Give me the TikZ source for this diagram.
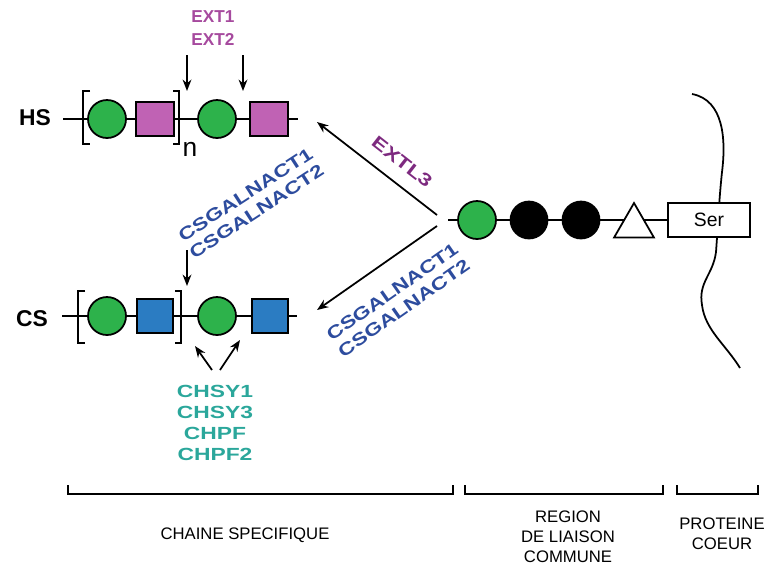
\documentclass[tikz,border=0pt]{standalone}
\usepackage{fontspec}
\setmainfont{Liberation Sans}
\newfontfamily\widesans[FakeStretch=1.3]{Liberation Sans}
\usetikzlibrary{arrows.meta, shapes.geometric}

\definecolor{sugargreen}{HTML}{2DB24B}
\definecolor{sugarmagenta}{HTML}{C062B4}
\definecolor{sugarblue}{HTML}{2B7CC2}
\definecolor{extpurple}{HTML}{A64A9E}
\definecolor{extlpurple}{HTML}{7D2A7F}
\definecolor{csgblue}{HTML}{2D4C9E}
\definecolor{chsyteal}{HTML}{2BA79B}

\begin{document}
\begin{tikzpicture}[x=0.02cm, y=-0.02cm, >={Stealth[length=6.5pt,width=5pt]}, line width=1pt,
    uronic/.style={circle, draw, fill=sugargreen, minimum size=0.76cm, inner sep=0pt},
    glcnac/.style={rectangle, draw, fill=sugarmagenta, minimum width=0.76cm, minimum height=0.68cm, inner sep=0pt},
    galnac/.style={rectangle, draw, fill=sugarblue, minimum width=0.72cm, minimum height=0.68cm, inner sep=0pt},
    gal/.style={circle, draw, fill=black, minimum size=0.74cm, inner sep=0pt},
    xyl/.style={regular polygon, regular polygon sides=3, draw, fill=white, minimum size=0.92cm, inner sep=0pt},
    serbox/.style={rectangle, draw, fill=white, minimum width=1.64cm, minimum height=0.68cm, inner sep=0pt, font=\fontsize{11}{13}\selectfont},
    chainlbl/.style={font=\bfseries\fontsize{13}{15}\selectfont},
    enzyme/.style={align=center, font=\widesans\bfseries\fontsize{10}{11.5}\selectfont},
    region/.style={align=center, font=\fontsize{9.5}{11.4}\selectfont}]

    \useasboundingbox (0,0) rectangle (766,566);

    % HS
    \node[chainlbl] (HS) at (35,118) {HS};
    \coordinate (hsL) at (63,119);
    \coordinate (hsR) at (298,119);
    \draw (hsL) -- (hsR);
    \draw (90,91) -- (83,91) -- (83,144) -- (90,144);
    \draw (173,91) -- (179,91) -- (179,144) -- (173,144);
    \node[uronic] (hsU1) at (107,119) {};
    \node[glcnac] (hsN1) at (155,119) {};
    \node[uronic] (hsU2) at (217,119) {};
    \node[glcnac] (hsN2) at (269,119) {};
    \node[font=\fontsize{15}{15}\selectfont] (hsn) at (190,149) {n};

    \node[align=center, text=extpurple, font=\bfseries\fontsize{9.8}{13}\selectfont] (EXT) at (213,28) {EXT1\\EXT2};
    \coordinate (extA) at (187,55);
    \coordinate (extAe) at (187,91);
    \coordinate (extB) at (243,55);
    \coordinate (extBe) at (243,91);
    \draw[->] (extA) -- (extAe);
    \draw[->] (extB) -- (extBe);

    % CS
    \node[chainlbl] (CS) at (32,319) {CS};
    \coordinate (csL) at (62,316);
    \coordinate (csR) at (297,316);
    \draw (csL) -- (csR);
    \draw (85,291) -- (78,291) -- (78,343) -- (85,343);
    \draw (175,291) -- (181,291) -- (181,343) -- (175,343);
    \node[uronic] (csU1) at (107,316) {};
    \node[galnac] (csN1) at (155,316) {};
    \node[uronic] (csU2) at (217,316) {};
    \node[galnac] (csN2) at (270,316) {};

    \node[enzyme, text=csgblue, rotate=33] (CSGa) at (251,203) {CSGALNACT1\\CSGALNACT2};
    \coordinate (csgA) at (187,250);
    \coordinate (csgAe) at (187,286);
    \draw[->] (csgA) -- (csgAe);

    \node[enzyme, text=chsyteal, font=\widesans\bfseries\fontsize{10}{11.8}\selectfont] (CHSY) at (215,423) {CHSY1\\CHSY3\\CHPF\\CHPF2};
    \coordinate (chsyA) at (212,370);
    \coordinate (chsyB) at (220,370);
    \coordinate (chsyAe) at (195,346);
    \coordinate (chsyBe) at (240,340);
    \draw[->] (chsyA) -- (chsyAe);
    \draw[->] (chsyB) -- (chsyBe);

    % liaison
    \coordinate (forkU) at (437,215);
    \coordinate (forkD) at (437,226);
    \coordinate (hsTip) at (317,122);
    \coordinate (csTip) at (317,310);
    \draw[->] (forkU) -- (hsTip);
    \draw[->] (forkD) -- (csTip);
    \node[enzyme, text=extlpurple, rotate=-38] (EXTL3) at (402,162) {EXTL3};
    \node[enzyme, text=csgblue, rotate=35] (CSGb) at (398,300) {CSGALNACT1\\CSGALNACT2};

    \draw (692,94) .. controls (724,100) and (726,140) .. (722,172)
        .. controls (719,200) and (718,225) .. (716,252)
        .. controls (713,275) and (698,282) .. (702,305)
        .. controls (705,330) and (726,345) .. (740,368);

    \coordinate (lkL) at (448,220);
    \node[serbox] (ser) at (709,220) {Ser};
    \draw (lkL) -- (ser);
    \node[uronic] (lkU) at (477,220) {};
    \node[gal] (lkG1) at (529,220) {};
    \node[gal] (lkG2) at (581,220) {};
    \node[xyl] (lkX) at (634,226) {};

    % accolades
    \draw (68,485) -- (68,494) -- (453,494) -- (453,485);
    \draw (465,485) -- (465,494) -- (663,494) -- (663,485);
    \draw (677,485) -- (677,494) -- (758,494) -- (758,485);
    \node[region] (chaine) at (245,535) {CHAINE SPECIFIQUE};
    \node[region] (liaison) at (568,537) {REGION\\DE LIAISON\\COMMUNE};
    \node[region] (coeur) at (722,534) {PROTEINE\\COEUR};

\end{tikzpicture}
\end{document}
